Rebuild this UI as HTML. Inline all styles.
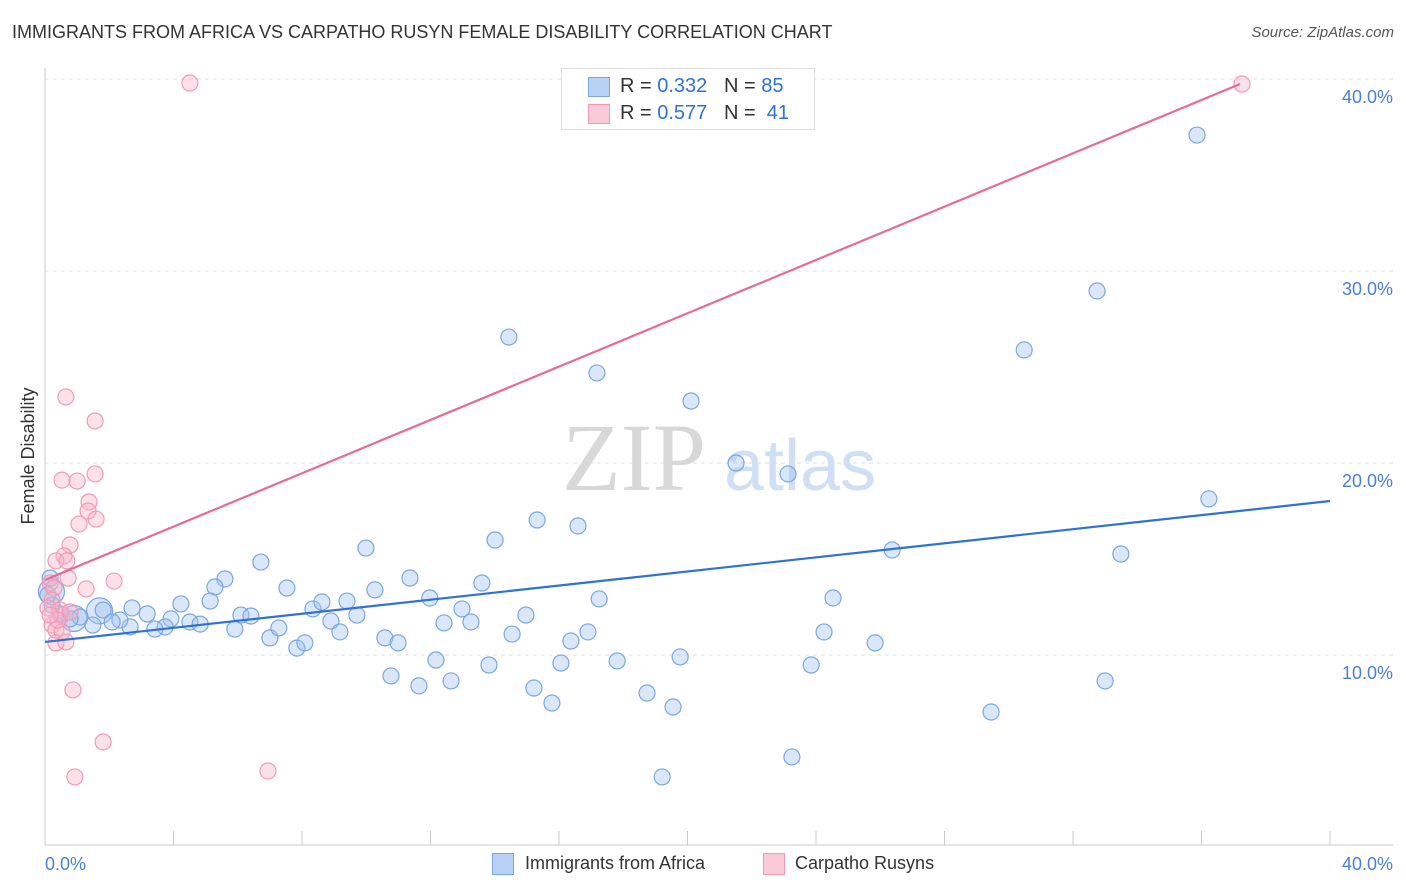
<!DOCTYPE html>
<html><head><meta charset="utf-8"><style>
body{margin:0;background:#fff;font-family:"Liberation Sans",sans-serif;}
#wrap{position:relative;width:1406px;height:892px;overflow:hidden;}
.t{position:absolute;white-space:nowrap;}
</style></head><body>
<div id="wrap">
<div class="t" style="left:12px;top:22px;font-size:18px;color:#333;">IMMIGRANTS FROM AFRICA VS CARPATHO RUSYN FEMALE DISABILITY CORRELATION CHART</div>
<div class="t" style="right:12px;top:24px;font-size:15px;color:#555;font-style:italic;">Source: ZipAtlas.com</div>
<svg id="svg" width="1406" height="892" style="position:absolute;left:0;top:0"></svg>
</div>
<script>
const xTickVals=[0,4,8,12,16,20,24,28,32,36,40];
const yTickVals=[10,20,30,40];
const yTickLabels=["10.0%","20.0%","30.0%","40.0%"];
const xEndLabels=["0.0%","40.0%"];
const blueX=[35.86,32.75,30.48,14.44,17.18,20.11,21.51,23.13,36.23,15.32,16.59,14.01,9.99,26.37,33.49,6.72,11.36,13.60,10.27,7.53,5.60,5.29,5.14,4.23,2.71,1.81,3.18,3.92,4.51,4.83,3.74,3.42,2.65,2.33,2.09,1.49,1.09,0.78,0.47,0.22,0.09,0.16,5.91,6.10,6.41,7.00,7.28,7.84,8.09,8.34,8.62,8.90,9.18,9.40,9.71,10.58,10.99,11.98,12.42,12.98,13.26,14.54,14.97,16.37,16.90,17.25,12.17,10.77,11.64,12.64,13.82,16.06,17.81,19.77,15.22,15.78,18.74,19.55,24.53,24.25,25.84,23.85,33.00,29.45,23.25,19.21];
const blueY=[37.08,28.96,25.89,26.56,24.69,23.23,20.0,19.43,18.13,17.03,16.72,15.99,15.57,15.47,15.26,14.84,14.01,13.75,13.39,13.49,13.96,13.54,12.81,12.66,12.45,12.34,12.14,11.88,11.72,11.61,11.46,11.35,11.46,11.82,11.72,11.56,11.98,11.88,12.14,12.60,13.13,14.01,11.35,12.08,12.03,10.89,11.41,10.36,10.63,12.40,12.76,11.77,11.20,12.81,12.08,10.89,10.63,12.97,11.67,12.40,11.72,11.09,12.08,10.73,11.20,12.92,9.74,8.91,8.39,8.65,9.48,9.58,9.69,9.90,8.28,7.50,8.02,7.29,12.97,11.20,10.63,9.48,8.65,7.03,4.69,3.65];
const pinkX=[4.51,37.26,0.65,1.56,1.56,0.53,1.00,1.37,1.34,1.59,1.06,0.78,0.59,0.34,0.68,0.72,2.15,1.28,0.16,0.28,0.22,0.09,0.47,0.53,0.22,0.34,0.53,0.34,0.65,0.87,1.81,0.93,6.94,0.40,0.16,0.78];
const pinkY=[39.79,39.74,23.44,22.19,19.43,19.11,19.06,17.97,17.50,17.08,16.82,15.73,15.16,14.90,14.90,14.01,13.85,13.44,13.75,13.49,12.86,12.45,12.34,12.08,11.56,11.30,11.20,10.63,10.68,8.18,5.47,3.65,3.96,11.82,12.08,12.24];
const blueTrendX=[0,40], blueTrendY=[10.68,18.02];
const pinkTrendX=[0,37.2], pinkTrendY=[13.91,39.74];
const bigBlue=[[0.2,13.3],[0.9,11.9],[1.7,12.3]];

const X=v=>45+v/40*1285;
const Y=v=>847-v*19.2;
const svg=document.getElementById('svg');
const NS='http://www.w3.org/2000/svg';
function mk(tag,attrs){const e=document.createElementNS(NS,tag);for(const k in attrs)e.setAttribute(k,attrs[k]);svg.appendChild(e);return e;}
// gridlines
yTickVals.forEach((v,i)=>{
 const g=mk('line',{x1:45,x2:1393,y1:Y(v),y2:Y(v),stroke:'#ddd','stroke-dasharray':'4,4'});
 
 
 const t=mk('text',{x:1393,y:Y(v)+24,'text-anchor':'end','font-size':18,fill:'#4a7fd6','font-family':'Liberation Sans'});
 t.textContent=yTickLabels[i];
 
 
});
const ax=mk('line',{x1:45,x2:1393,y1:845,y2:845,stroke:'#ccc'});


const ay=mk('line',{x1:45,x2:45,y1:68,y2:845,stroke:'#ccc'});


xTickVals.forEach(v=>{
 const l=mk('line',{x1:X(v),x2:X(v),y1:831,y2:845,stroke:'#ccc'});
 
 
});
[[0,'start',45],[40,'end',1393]].forEach((a,i)=>{
 const t=mk('text',{x:a[2],y:870,'text-anchor':a[1],'font-size':18,fill:'#4a7fd6','font-family':'Liberation Sans'});
 t.textContent=xEndLabels[i];
 
 
});
const yt=mk('text',{x:34,y:456,'text-anchor':'middle','font-size':18,fill:'#333',transform:'rotate(-90 34 456)','font-family':'Liberation Sans'});
yt.textContent='Female Disability';


// watermark
const w1=mk('text',{x:634,y:490,'text-anchor':'middle','font-size':96,fill:'#d8d8d8','font-family':'Liberation Serif'});
w1.textContent='ZIP';


const w2=mk('text',{x:800,y:490,'text-anchor':'middle','font-size':72,fill:'#cfdff5','font-family':'Liberation Sans'});
w2.textContent='atlas';


// points
bigBlue.forEach(p=>{
 const c=mk('circle',{cx:X(p[0]),cy:Y(p[1]),r:13,fill:'rgba(160,196,240,0.4)',stroke:'#7aa7e0','stroke-width':1.2});
 
 
});
blueX.forEach((v,i)=>{
 const c=mk('circle',{cx:X(v),cy:Y(blueY[i]),r:8,fill:'rgba(160,196,240,0.4)',stroke:'#7aa7e0','stroke-width':1.2});
 
 
});
pinkX.forEach((v,i)=>{
 const c=mk('circle',{cx:X(v),cy:Y(pinkY[i]),r:8,fill:'rgba(248,180,200,0.4)',stroke:'#f19ab5','stroke-width':1.2});
 
 
});
const bl=mk('line',{x1:X(blueTrendX[0]),y1:Y(blueTrendY[0]),x2:X(blueTrendX[1]),y2:Y(blueTrendY[1]),stroke:'#2f72d4','stroke-width':2.2});


const pl=mk('line',{x1:X(pinkTrendX[0]),y1:Y(pinkTrendY[0]),x2:X(pinkTrendX[1]),y2:Y(pinkTrendY[1]),stroke:'#e86a96','stroke-width':2.2});


</script>
<div class="t" style="left:561px;top:68px;width:254px;height:62px;border:1px solid #ddd;background:#fff;box-sizing:border-box;">
 <div class="t" style="left:26px;top:8px;width:20px;height:18px;background:#b8d2f5;border:1px solid #7aa7e0;"></div>
 <div class="t" style="left:58px;top:6px;font-size:20px;color:#333;">R = <span style="color:#2f72d4">0.332</span> &nbsp; N = <span style="color:#2f72d4">85</span></div>
 <div class="t" style="left:26px;top:35px;width:20px;height:18px;background:#fbcad9;border:1px solid #f19ab5;"></div>
 <div class="t" style="left:58px;top:33px;font-size:20px;color:#333;">R = <span style="color:#2f72d4">0.577</span> &nbsp; N = &nbsp;<span style="color:#2f72d4">41</span></div>
</div>
<div class="t" style="left:492px;top:853px;width:20px;height:20px;background:#b8d2f5;border:1px solid #7aa7e0;"></div>
<div class="t" style="left:525px;top:853px;font-size:18px;color:#333;">Immigrants from Africa</div>
<div class="t" style="left:763px;top:853px;width:20px;height:20px;background:#fbcad9;border:1px solid #f19ab5;"></div>
<div class="t" style="left:795px;top:853px;font-size:18px;color:#333;">Carpatho Rusyns</div>
</body></html>
